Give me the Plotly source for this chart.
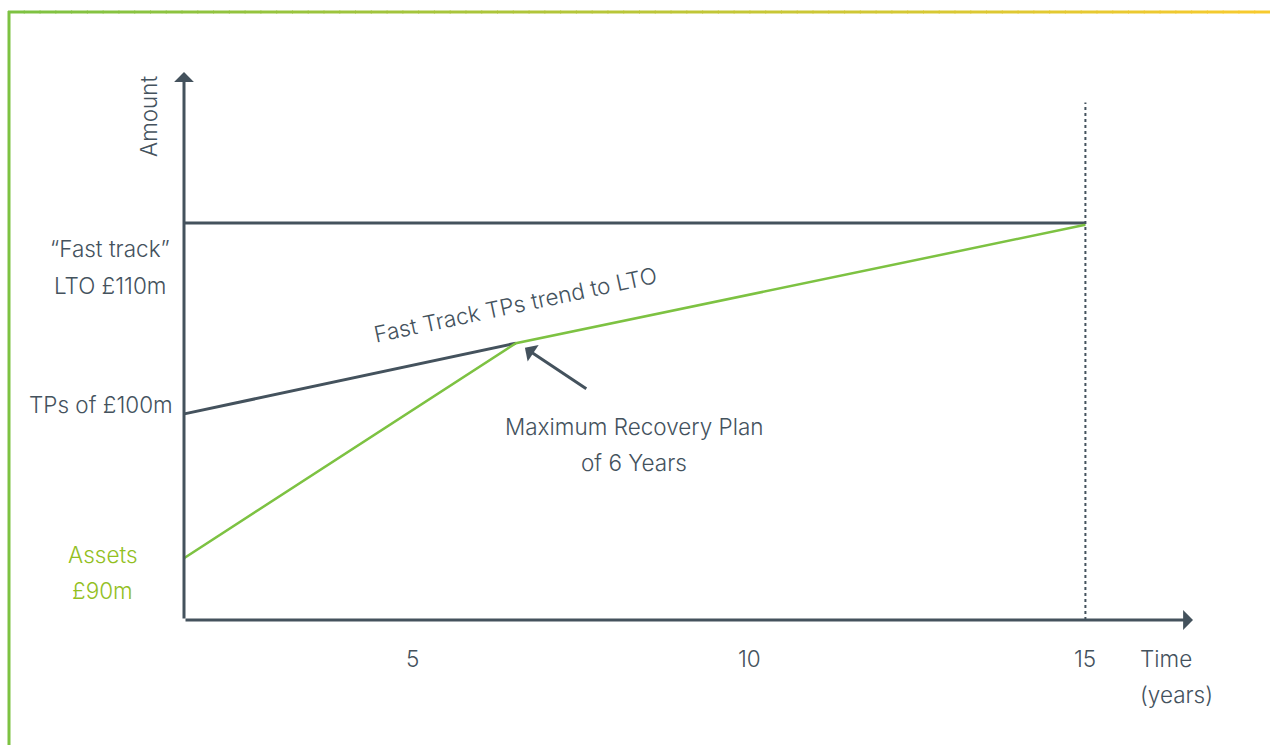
import plotly.graph_objects as go

# ---- data (schematic values) ----
years_start = 1.6
knee_year = 6.53
end_year = 15.0
lto_value = 110.0            # "Fast track" LTO £110m
tps_value = 100.0            # TPs of £100m
assets_start = 92.46         # Assets £90m (drawn position)
knee_value = 103.7
green_end = 109.9

lto_x = [years_start, end_year]
lto_y = [lto_value, lto_value]
tps_x = [years_start, knee_year]
tps_y = [tps_value, knee_value]
assets_x = [years_start, knee_year, end_year]
assets_y = [assets_start, knee_value, green_end]

x_ticks = [5, 10, 15]
x_ticklabels = ["5", "10", "15"]

# axis extents
x_min, x_max = 1.595, 16.60
y_min, y_max = 89.21, 117.9
dotted_top = 116.3

DARK = "#44525d"
GREEN = "#7dc242"
LABEL_GREEN = "#93c01f"
FONT = "Inter"
FSIZE = 22.5
FWEIGHT = 300

W, H = 1270, 745
L, R, T, B = 184, 77, 72, 125
PW, PH = W - L - R, H - T - B

def px(x):
    return (x - L) / PW

def py(y):
    return (H - B - y) / PH

fig = go.Figure()
fig.add_trace(go.Scatter(x=lto_x, y=lto_y, mode="lines",
                         line=dict(color=DARK, width=3), hoverinfo="skip"))
fig.add_trace(go.Scatter(x=tps_x, y=tps_y, mode="lines",
                         line=dict(color=DARK, width=3), hoverinfo="skip"))
fig.add_trace(go.Scatter(x=assets_x, y=assets_y, mode="lines",
                         line=dict(color=GREEN, width=2.5), hoverinfo="skip"))

# dotted vertical at 15 years
fig.add_shape(type="line", x0=end_year, x1=end_year, y0=y_min, y1=dotted_top,
              xref="x", yref="y", line=dict(color=DARK, width=2, dash="dot"))

ann = []
# axes with arrows
ann.append(dict(x=x_max, y=y_min, ax=x_min, ay=y_min, xref="x", yref="y",
                axref="x", ayref="y", text="", showarrow=True, arrowhead=1,
                arrowwidth=3, arrowsize=1.1, arrowcolor=DARK))
ann.append(dict(x=x_min, y=y_max, ax=x_min, ay=y_min, xref="x", yref="y",
                axref="x", ayref="y", text="", showarrow=True, arrowhead=1,
                arrowwidth=3, arrowsize=1.1, arrowcolor=DARK))
# recovery plan arrow
ann.append(dict(x=6.665, y=103.46, ax=7.60, ay=101.26, xref="x", yref="y",
                axref="x", ayref="y", text="", showarrow=True, arrowhead=1,
                arrowwidth=3, arrowsize=1.1, arrowcolor=DARK))

def label(text, x, y, color=DARK, xanchor="center", angle=0, size=FSIZE):
    ann.append(dict(text=text, x=px(x), y=py(y), xref="paper", yref="paper",
                    xanchor=xanchor, yanchor="middle", showarrow=False,
                    textangle=angle,
                    font=dict(family=FONT, size=size, color=color, weight=FWEIGHT)))

label("Maximum Recovery Plan", 634, 426)
label("of 6 Years", 634, 462)
label("Fast Track TPs trend to LTO", 515, 304, angle=-12)
label("“Fast track”", 110, 248)
label("LTO £110m", 110, 285)
label("TPs of £100m", 101, 404)
label("Assets", 103, 554, color=LABEL_GREEN)
label("£90m", 102, 590, color=LABEL_GREEN)
label("Time", 1138, 658, xanchor="left")
label("(years)", 1138, 694, xanchor="left")
label("Amount", 148, 116, angle=-90)
for v, t in zip(x_ticks, x_ticklabels):
    ann.append(dict(text=t, x=v, y=py(658), xref="x", yref="paper",
                    xanchor="center", yanchor="middle", showarrow=False,
                    font=dict(family=FONT, size=FSIZE, color=DARK, weight=FWEIGHT)))

# frame: left green line and top green->yellow gradient line
shapes = []
shapes.append(dict(type="line", xref="paper", yref="paper",
                   x0=px(9), x1=px(9), y0=py(11), y1=py(745),
                   line=dict(color=GREEN, width=3)))
c0 = (0x7d, 0xc2, 0x42)
c1 = (0xf8, 0xca, 0x2e)
N = 80
x_start, x_end = 8, 1270
for i in range(N):
    a = x_start + (x_end - x_start) * i / N
    b = x_start + (x_end - x_start) * (i + 1) / N + 1
    t = (i + 0.5) / N
    col = "rgb(%d,%d,%d)" % tuple(round(c0[k] + (c1[k] - c0[k]) * t) for k in range(3))
    shapes.append(dict(type="line", xref="paper", yref="paper",
                       x0=px(a), x1=px(b), y0=py(12), y1=py(12),
                       line=dict(color=col, width=3)))

fig.update_layout(
    width=W, height=H,
    margin=dict(l=L, r=R, t=T, b=B),
    paper_bgcolor="white", plot_bgcolor="white",
    showlegend=False,
    xaxis=dict(range=[x_min, x_max], showgrid=False, zeroline=False,
               showline=False, showticklabels=False, ticks=""),
    yaxis=dict(range=[y_min, y_max], showgrid=False, zeroline=False,
               showline=False, showticklabels=False, ticks=""),
    annotations=ann,
    shapes=fig.layout.shapes + tuple(shapes),
    font=dict(family=FONT, color=DARK),
)

fig.write_html("out.html", config={"displayModeBar": False})
